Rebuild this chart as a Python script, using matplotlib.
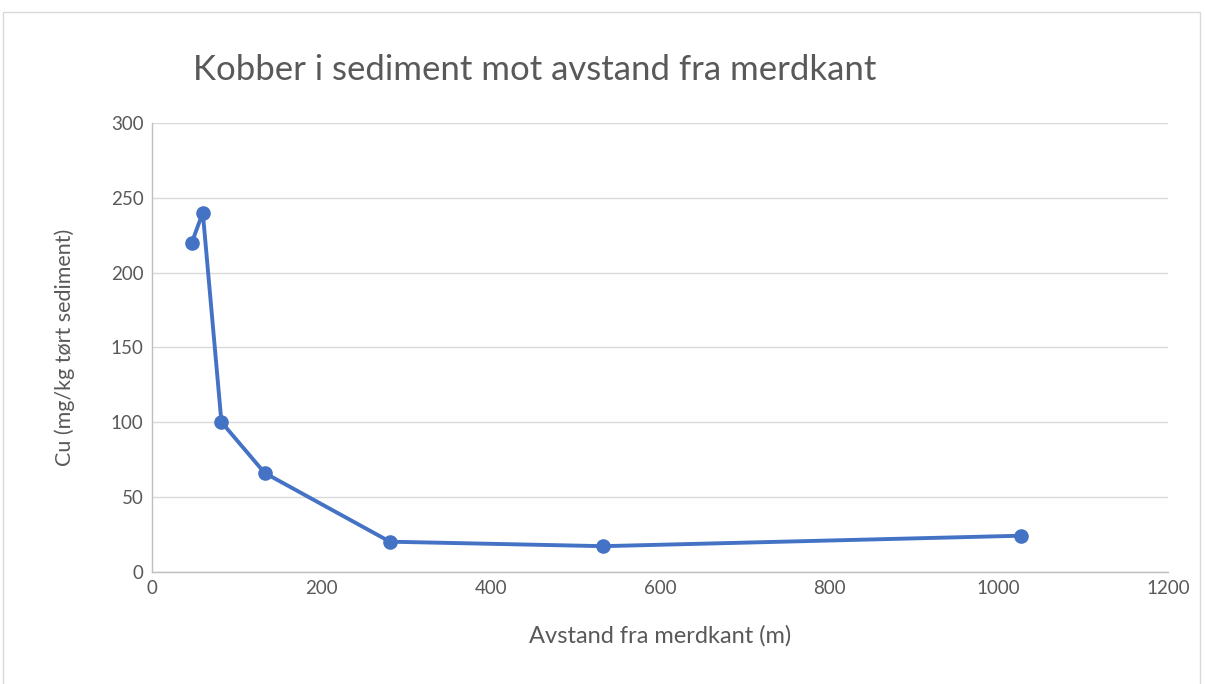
import matplotlib
matplotlib.use("Agg")
import matplotlib.pyplot as plt
from matplotlib.patches import Rectangle

distance_m = [47, 60, 82, 133, 281, 533, 1026]
cu_mg_kg = [220, 240, 100, 66, 20, 17, 24]
x_ticks = [0, 200, 400, 600, 800, 1000, 1200]
y_ticks = [0, 50, 100, 150, 200, 250, 300]

plt.rcParams['font.family'] = ['Lato', 'DejaVu Sans']
W, H = 1205, 684
fig = plt.figure(figsize=(W / 100, H / 100), dpi=100)
fig.patch.set_facecolor('white')
fig.add_artist(Rectangle((3 / W, -0.01), (1200 - 3) / W, 1 - 12 / H + 0.01,
                         transform=fig.transFigure, fill=False,
                         edgecolor='#D9D9D9', linewidth=1))

ax = fig.add_axes([152 / W, 1 - 571.6 / H, (1168 - 152) / W, (571.6 - 123) / H])
ax.plot(distance_m, cu_mg_kg, color='#4472C4', linewidth=2.8,
        marker='o', markersize=9.5, zorder=3)
ax.set_xlim(0, 1200)
ax.set_ylim(0, 300)
ax.set_xticks(x_ticks)
ax.set_yticks(y_ticks)
ax.grid(axis='y', color='#D9D9D9', linewidth=1)
ax.set_axisbelow(True)
for s in ['top', 'right']:
    ax.spines[s].set_visible(False)
for s in ['left', 'bottom']:
    ax.spines[s].set_color('#BFBFBF')
    ax.spines[s].set_linewidth(1)
ax.tick_params(length=0, labelsize=13.5, colors='#595959', pad=6)
ax.set_xlabel('Avstand fra merdkant (m)', fontsize=17, color='#595959', labelpad=20)
ax.set_ylabel('Cu (mg/kg tørt sediment)', fontsize=15.5, color='#595959', labelpad=26)
fig.text(193 / W, 1 - 70 / H, 'Kobber i sediment mot avstand fra merdkant',
         fontsize=25, color='#595959', ha='left', va='center')

fig.savefig('out.png', dpi=100)
